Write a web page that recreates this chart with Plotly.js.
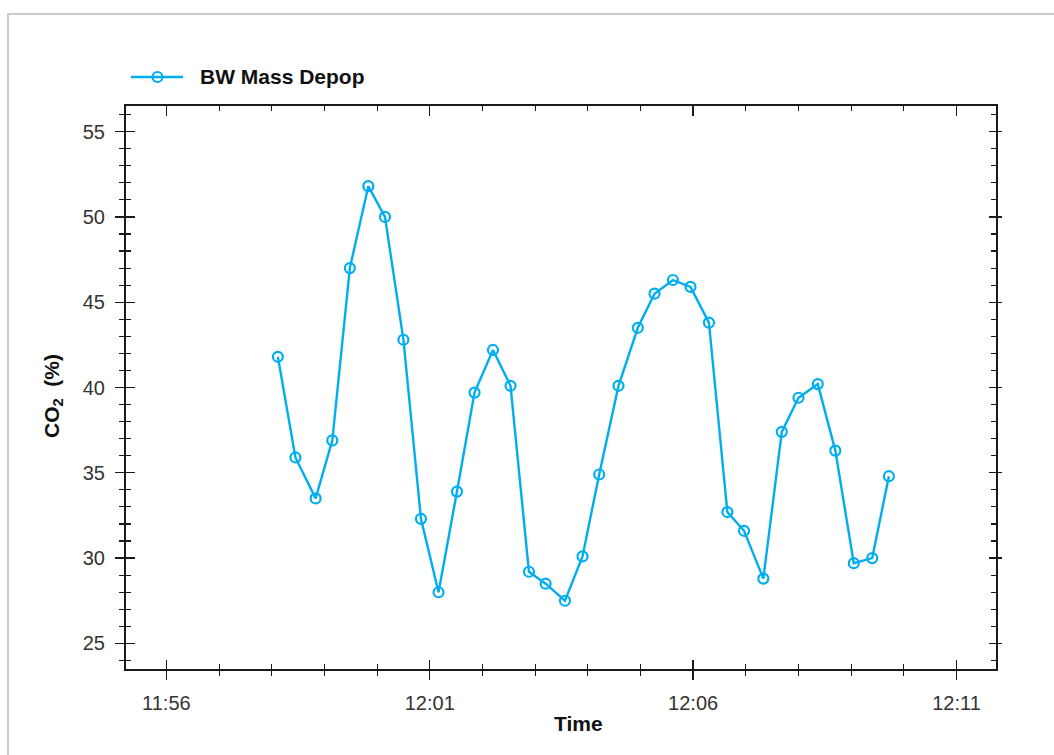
<!DOCTYPE html>
<html>
<head>
<meta charset="utf-8">
<script src="https://cdn.plot.ly/plotly-3.0.1.min.js"></script>
<style>
  html, body { margin: 0; padding: 0; background: #fff; }
  #wrap { position: relative; width: 1054px; height: 755px; overflow: hidden; }
  #chart { width: 1054px; height: 755px; }
  #frame { position: absolute; left: 7px; top: 13px; right: -10px; bottom: -10px;
           border-top: 2px solid #cccccc; border-left: 2px solid #cccccc; pointer-events: none; }
</style>
</head>
<body>
<div id="wrap">
  <div id="chart"></div>
  <div id="frame"></div>
</div>
<script>
// ---- data ----
const DAY = '2020-01-01';
const times = [
  '11:58:07','11:58:27','11:58:50','11:59:09','11:59:29','11:59:50','12:00:09','12:00:30',
  '12:00:50','12:01:10','12:01:31','12:01:51','12:02:12','12:02:32','12:02:53','12:03:12',
  '12:03:34','12:03:54','12:04:13','12:04:35','12:04:57','12:05:16','12:05:37','12:05:57',
  '12:06:18','12:06:39','12:06:58','12:07:20','12:07:41','12:08:00','12:08:22','12:08:42',
  '12:09:03','12:09:24','12:09:43'
];
const co2 = [
  41.8, 35.9, 33.5, 36.9, 47.0, 51.8, 50.0, 42.8,
  32.3, 28.0, 33.9, 39.7, 42.2, 40.1, 29.2, 28.5,
  27.5, 30.1, 34.9, 40.1, 43.5, 45.5, 46.3, 45.9,
  43.8, 32.7, 31.6, 28.8, 37.4, 39.4, 40.2, 36.3,
  29.7, 30.0, 34.8
];
const seriesName = 'BW Mass Depop';
const xTitle = 'Time';
const yTitle = 'CO<sub>2</sub>\u00a0\u00a0(%)';
const xRange = ['11:55:14', '12:11:45'];
const xTick0 = '11:56';
const yRange = [23.5, 56.5];

// ---- styling ----
const C = '#00aeef';
const AX = '#1a1a1a';
const FONT = 'Liberation Sans, Arial, Helvetica, sans-serif';

const W = 1054, H = 755;
const M = {l: 126, r: 58, t: 106, b: 86};
const PW = W - M.l - M.r, PH = H - M.t - M.b;
const px = x => (x - M.l) / PW;
const py = y => (H - M.b - y) / PH;

const xs = times.map(t => DAY + ' ' + t);
const xr = xRange.map(t => DAY + ' ' + t);
const x0 = DAY + ' ' + xTick0;

// invisible carrier traces so that the frame axes (crossing ticks, top and right) get drawn
function carrier(xa, ya) {
  return {type: 'scatter', mode: 'markers', x: xs, y: co2, xaxis: xa, yaxis: ya,
          marker: {opacity: 0, size: 1}, hoverinfo: 'skip', showlegend: false};
}

const traces = [
  carrier('x2', 'y2'),
  carrier('x3', 'y3'),
  carrier('x3', 'y4'),
  {
    type: 'scatter', mode: 'lines+markers', name: seriesName,
    x: xs, y: co2, xaxis: 'x', yaxis: 'y',
    line: {color: C, width: 2.4},
    marker: {symbol: 'circle-open', size: 10, color: C, line: {width: 2.2, color: C}},
    showlegend: false
  }
];

function xBase(extra) {
  return Object.assign({
    type: 'date', range: xr, autorange: false, tick0: x0, dtick: 300000,
    showgrid: false, zeroline: false,
    tickcolor: AX, tickwidth: 1.3
  }, extra);
}
function yBase(extra) {
  return Object.assign({
    range: yRange, autorange: false, tick0: 0, dtick: 5,
    showgrid: false, zeroline: false,
    tickcolor: AX, tickwidth: 1.3
  }, extra);
}
const xMinor = t => ({tick0: x0, dtick: 60000, ticks: t, ticklen: 5, tickcolor: AX, tickwidth: 1.1, showgrid: false});
const yMinor = t => ({tick0: 0, dtick: 1, ticks: t, ticklen: 5, tickcolor: AX, tickwidth: 1.1, showgrid: false});

const layout = {
  width: W, height: H,
  margin: M,
  paper_bgcolor: '#fff', plot_bgcolor: '#fff',
  font: {family: FONT, color: '#333', size: 20},
  showlegend: false,
  xaxis: xBase({
    anchor: 'y', side: 'bottom', ticks: 'outside', ticklen: 9,
    showline: true, linecolor: AX, linewidth: 2,
    tickformat: '%H:%M', tickfont: {family: FONT, size: 20, color: '#333'},
    ticklabelstandoff: 6,
    minor: xMinor('outside')
  }),
  xaxis2: xBase({
    overlaying: 'x', anchor: 'y2', side: 'bottom', ticks: 'inside', ticklen: 9,
    showline: false, showticklabels: false,
    minor: xMinor('inside')
  }),
  xaxis3: xBase({
    overlaying: 'x', anchor: 'y3', side: 'top', ticks: 'inside', ticklen: 10,
    showline: true, linecolor: AX, linewidth: 2, showticklabels: false,
    minor: xMinor('inside')
  }),
  yaxis: yBase({
    anchor: 'x', side: 'left', ticks: 'outside', ticklen: 9,
    showline: true, linecolor: AX, linewidth: 2,
    tickfont: {family: FONT, size: 20, color: '#333'},
    ticklabelstandoff: 6,
    minor: yMinor('outside')
  }),
  yaxis2: yBase({
    overlaying: 'y', anchor: 'x2', side: 'left', ticks: 'inside', ticklen: 9,
    showline: false, showticklabels: false,
    minor: yMinor('inside')
  }),
  yaxis3: yBase({
    overlaying: 'y', anchor: 'x3', side: 'right', ticks: 'inside', ticklen: 7,
    showline: true, linecolor: AX, linewidth: 2, showticklabels: false,
    minor: yMinor('inside')
  }),
  yaxis4: yBase({
    overlaying: 'y', anchor: 'x3', side: 'right', ticks: 'outside', ticklen: 5,
    showline: false, showticklabels: false
  }),
  shapes: [
    {type: 'line', xref: 'paper', yref: 'paper', x0: px(131), x1: px(183), y0: py(77), y1: py(77),
     line: {color: C, width: 2.4}},
    {type: 'circle', xref: 'paper', yref: 'paper', xsizemode: 'pixel', ysizemode: 'pixel',
     xanchor: px(157.5), yanchor: py(77), x0: -5, x1: 5, y0: -5, y1: 5,
     line: {color: C, width: 2.2}, fillcolor: 'rgba(0,0,0,0)'}
  ],
  annotations: [
    {text: '<b>' + seriesName + '</b>', xref: 'paper', yref: 'paper', x: px(198), y: py(77),
     xanchor: 'left', yanchor: 'middle', showarrow: false,
     font: {family: FONT, size: 21, color: '#111'}},
    {text: '<b>' + xTitle + '</b>', xref: 'paper', yref: 'paper', x: px(578.5), y: py(723),
     xanchor: 'center', yanchor: 'middle', showarrow: false,
     font: {family: FONT, size: 21, color: '#111'}},
    {text: '<b>' + yTitle + '</b>', xref: 'paper', yref: 'paper', x: px(53), y: py(396),
     xanchor: 'center', yanchor: 'middle', showarrow: false, textangle: -90,
     font: {family: FONT, size: 21, color: '#111'}}
  ]
};

Plotly.newPlot('chart', traces, layout, {staticPlot: true, displayModeBar: false});
</script>
</body>
</html>
